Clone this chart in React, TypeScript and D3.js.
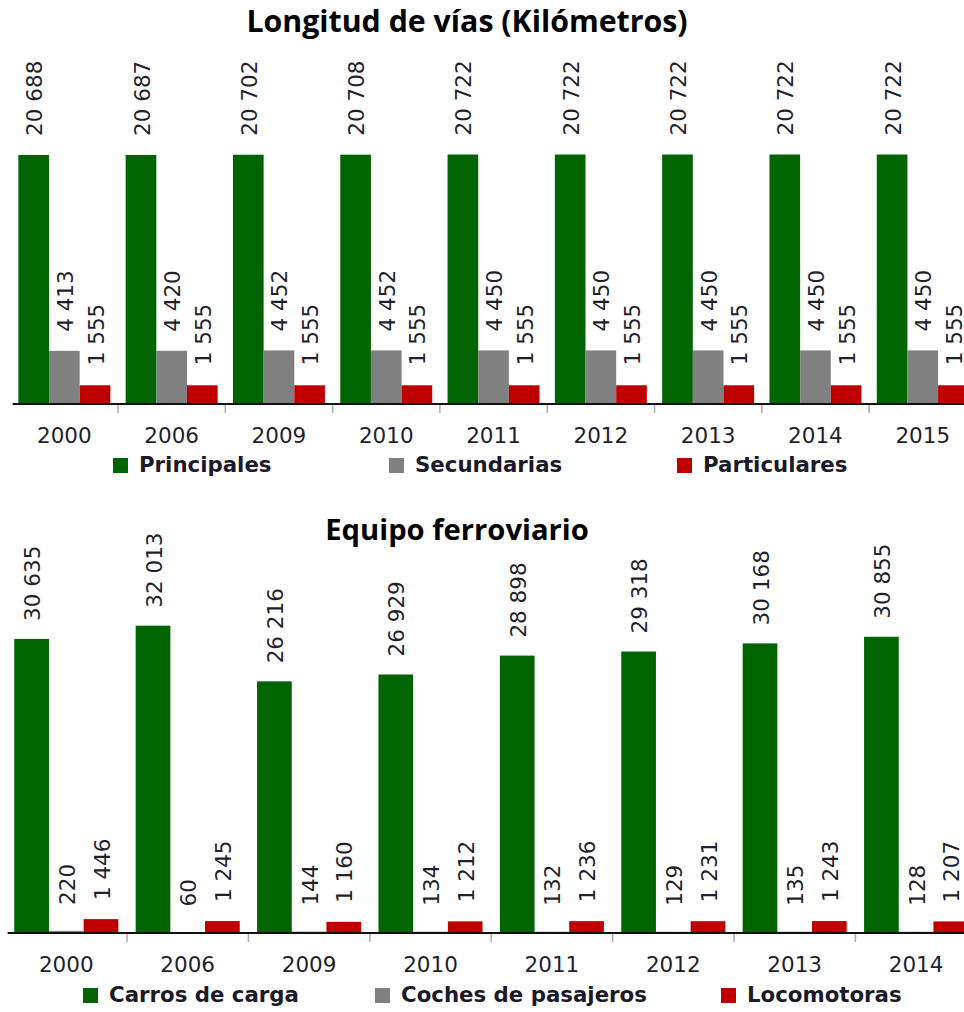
import React from "react";
import * as d3 from "d3";

const viasYears = ["2000", "2006", "2009", "2010", "2011", "2012", "2013", "2014", "2015"];
const principales = [20688, 20687, 20702, 20708, 20722, 20722, 20722, 20722, 20722];
const secundarias = [4413, 4420, 4452, 4452, 4450, 4450, 4450, 4450, 4450];
const particulares = [1555, 1555, 1555, 1555, 1555, 1555, 1555, 1555, 1555];
const viasSeries = ["Principales", "Secundarias", "Particulares"];

const equipoYears = ["2000", "2006", "2009", "2010", "2011", "2012", "2013", "2014"];
const carros = [30635, 32013, 26216, 26929, 28898, 29318, 30168, 30855];
const coches = [220, 60, 144, 134, 132, 129, 135, 128];
const locomotoras = [1446, 1245, 1160, 1212, 1236, 1231, 1243, 1207];
const equipoSeries = ["Carros de carga", "Coches de pasajeros", "Locomotoras"];

const COLORS = ["#006400", "#808080", "#C00000"];
const TITLE_FONT = "'Open Sans', 'DejaVu Sans', sans-serif";
const FONT = "'DejaVu Sans', sans-serif";
const fmt = (v: number) => d3.format(",")(v).replace(/,/g, " ");

type ChartProps = {
  title: string;
  titleX: number;
  titleY: number;
  titleSize: number;
  years: string[];
  series: string[];
  values: number[][];
  x0: number;
  step: number;
  baseY: number;
  yMax: number;
  yTop: number;
  catLabelY: number;
  legendY: number;
  legendXs: number[];
  gaps: number[];
};

function Chart(p: ChartProps) {
  const x = d3
    .scaleBand<string>()
    .domain(p.years)
    .range([p.x0, p.x0 + p.step * p.years.length])
    .padding(0);
  const xs = d3
    .scaleBand<string>()
    .domain(p.series)
    .range([0, x.bandwidth()])
    .paddingInner(0)
    .paddingOuter(0.25);
  const y = d3.scaleLinear().domain([0, p.yMax]).range([p.baseY, p.yTop]);
  const bw = xs.bandwidth();

  return (
    <g>
      <text
        x={p.titleX}
        y={p.titleY}
        textAnchor="middle"
        fontFamily={TITLE_FONT}
        fontWeight="bold"
        fontSize={p.titleSize}
        fill="#000"
      >
        {p.title}
      </text>
      {p.years.map((yr, i) => (
        <g key={yr}>
          {p.series.map((s, j) => {
            const v = p.values[j][i];
            const bx = (x(yr) as number) + (xs(s) as number);
            const top = y(v);
            const cx = bx + bw / 2;
            return (
              <g key={s}>
                <rect x={bx} y={top} width={bw} height={p.baseY - top} fill={COLORS[j]} />
                <text
                  transform={`translate(${cx + 1},${top - p.gaps[j]}) rotate(-90)`}
                  textAnchor="start"
                  dy="0.35em"
                  fontFamily={FONT}
                  fontSize={21.5}
                  fill="#1f1f2e"
                >
                  {fmt(v)}
                </text>
              </g>
            );
          })}
          <text
            x={(x(yr) as number) + x.bandwidth() / 2}
            y={p.catLabelY}
            textAnchor="middle"
            fontFamily={FONT}
            fontSize={21.5}
            fill="#1f1f2e"
          >
            {yr}
          </text>
        </g>
      ))}
      {p.years.slice(1).map((yr) => (
        <line
          key={"t" + yr}
          x1={x(yr) as number}
          x2={x(yr) as number}
          y1={p.baseY}
          y2={p.baseY + 9}
          stroke="#aaa"
          strokeWidth={1.5}
        />
      ))}
      <line
        x1={p.x0 + 2}
        x2={p.x0 + p.step * p.years.length}
        y1={p.baseY}
        y2={p.baseY}
        stroke="#111"
        strokeWidth={2}
      />
      {p.series.map((s, j) => (
        <g key={"l" + s}>
          <rect x={p.legendXs[j]} y={p.legendY - 14} width={15} height={15} fill={COLORS[j]} />
          <text
            x={p.legendXs[j] + 26}
            y={p.legendY}
            fontFamily={FONT}
            fontWeight="bold"
            fontSize={21.3}
            fill="#1a1a2a"
          >
            {s}
          </text>
        </g>
      ))}
    </g>
  );
}

export default function App() {
  return (
    <div style={{ position: "absolute", left: 0, top: 0 }}>
      <svg width={964} height={1012} style={{ display: "block", background: "#fff" }}>
        <Chart
          title="Longitud de vías (Kilómetros)"
          titleX={467}
          titleY={32}
          titleSize={30.3}
          years={viasYears}
          series={viasSeries}
          values={[principales, secundarias, particulares]}
          x0={10.7}
          step={107.3}
          baseY={404}
          yMax={25000}
          yTop={404 - 25000 * 0.01204}
          catLabelY={443}
          legendY={472}
          legendXs={[113, 389, 677]}
          gaps={[19, 19, 20]}
        />
        <Chart
          title="Equipo ferroviario"
          titleX={457}
          titleY={540}
          titleSize={29.2}
          years={equipoYears}
          series={equipoSeries}
          values={[carros, coches, locomotoras]}
          x0={5.6}
          step={121.4}
          baseY={933}
          yMax={35000}
          yTop={933 - 35000 * 0.0096}
          catLabelY={972}
          legendY={1002}
          legendXs={[83, 375, 721]}
          gaps={[18, 26, 19]}
        />
      </svg>
    </div>
  );
}
